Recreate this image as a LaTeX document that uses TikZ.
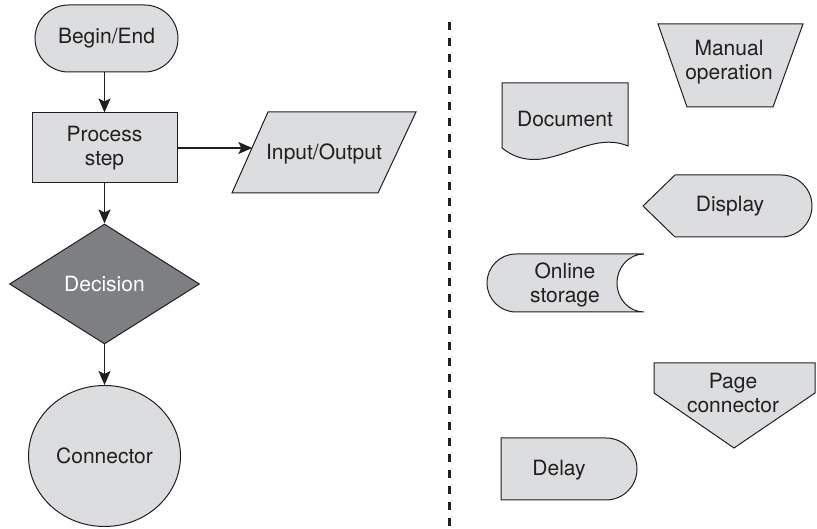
\documentclass[tikz,border=0pt]{standalone}
\usepackage{fontspec}
\setmainfont{TeX Gyre Heros}
\usetikzlibrary{shapes.geometric,arrows.meta}
\definecolor{ink}{HTML}{231F20}
\definecolor{shapefill}{HTML}{DCDDDF}
\definecolor{darkfill}{HTML}{7E7F83}
\begin{document}
\begin{tikzpicture}[x=1pt,y=1pt,
  every node/.style={font=\fontsize{21}{24}\selectfont, text=ink, align=center, inner sep=0pt},
  box/.style={draw=ink, fill=shapefill, line width=1pt},
  flow/.style={draw=ink, line width=1.3pt, -{Stealth[length=14pt,width=12pt,inset=3pt]}},
]
\useasboundingbox (0,0) rectangle (817,529);

% ---- flow on the left ----
\node[box, rounded corners=33.5pt, minimum width=143pt, minimum height=67pt] (begin) at (106.5,490.5) {Begin/End};
\node[box, minimum width=145pt, minimum height=70pt] (proc) at (104.5,381) {Process\\step};
\node[box, diamond, fill=darkfill, minimum width=190pt, minimum height=120pt, text=white] (dec) at (104.5,245) {Decision};
\node[box, ellipse, minimum width=152pt, minimum height=141pt] (conn) at (104.5,73) {Connector};

% input/output parallelogram
\draw[box] (232,336) -- (378,336) -- (416,417) -- (268,417) -- cycle;
\node (io) at (324,375) {Input/Output};
\coordinate (ioin) at (252.3,381);

\draw[flow] (begin.south -| proc.north) -- (proc.north);
\draw[flow] (proc.east) -- (ioin);
\draw[flow] (proc.south) -- (dec.north);
\draw[flow] (dec.south) -- (conn.north);

% ---- separator ----
\draw[ink, line width=3pt, dash pattern=on 8pt off 8pt] (449,507) -- (449,0);

% ---- other symbols on the right ----
% manual operation
\draw[box] (658,505) -- (803,505) -- (773,422) -- (687,422) -- cycle;
\node (manual) at (729,467) {Manual\\operation};

% document
\draw[box] (502,446) -- (628,446) -- (628,383)
  .. controls (585,401) and (545,347) .. (502,381) -- cycle;
\node (doc) at (565,410) {Document};

% display
\draw[box] (643,323) -- (675,354) -- (781,354)
  arc[start angle=90, end angle=-90, radius=31] -- (675,292) -- cycle;
\node (disp) at (730,323) {Display};

% online storage
\draw[box] (644,275) -- (516,275) arc[start angle=90, end angle=270, radius=29]
  -- (644,217) arc[start angle=270, end angle=90, x radius=27, y radius=29] -- cycle;
\node (store) at (565,244) {Online\\storage};

% off-page connector
\draw[box] (654,166) -- (815,166) -- (815,136) -- (734,81) -- (654,136) -- cycle;
\node (page) at (733,136) {Page\\connector};

% delay
\draw[box] (501,91) -- (606,91) arc[start angle=90, end angle=-90, radius=31] -- (501,29) -- cycle;
\node (delay) at (559,59) {Delay};
\end{tikzpicture}
\end{document}
